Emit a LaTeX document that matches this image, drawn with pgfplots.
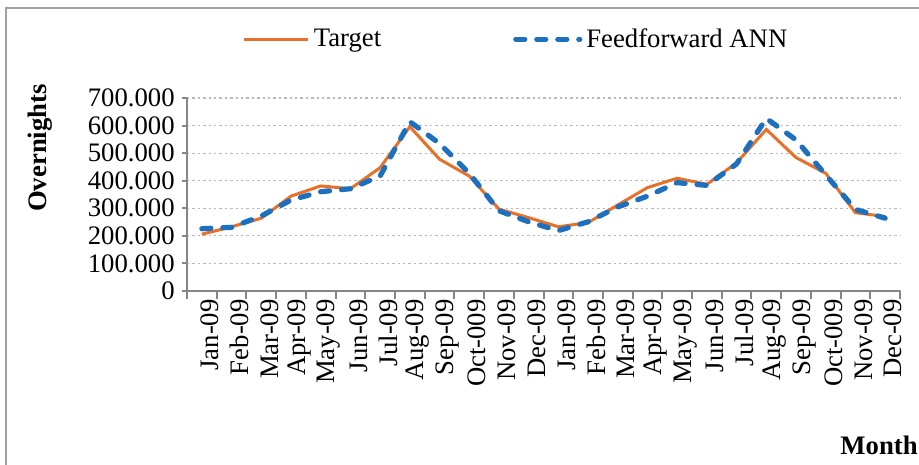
\documentclass[border=0pt]{standalone}
\usepackage{fontspec}
\setmainfont{Liberation Serif}
\usepackage{pgfplots}
\usepackage{pgfplotstable}
\pgfplotsset{compat=1.18}

\definecolor{tgt}{RGB}{232,112,40}
\definecolor{ann}{RGB}{28,112,190}
\definecolor{axgray}{RGB}{134,134,134}
\definecolor{gridgray}{RGB}{185,185,185}
\definecolor{framegray}{RGB}{160,160,160}

\newcommand{\cf}{\fontsize{13.4}{15}\selectfont}

% month index, target, feedforward ANN
\pgfplotstableread{
x  target  ann
0  206000  226000
1  233000  231000
2  264000  272000
3  344000  330000
4  381000  360000
5  371000  371000
6  447000  417000
7  596000  614000
8  478000  535000
9  417000  427000
10 297000  291000
11 266000  251000
12 233000  219000
13 248000  251000
14 312000  305000
15 375000  344000
16 409000  393000
17 387000  383000
18 465000  461000
19 586000  626000
20 484000  548000
21 427000  421000
22 284000  296000
23 270000  264000
}\overnights

\begin{document}
\begin{tikzpicture}
\useasboundingbox (0,0) rectangle (459.5bp,232.5bp);
\begin{scope}
\clip (0,0) rectangle (459.5bp,232.5bp);
\draw[framegray, line width=1bp] (3bp,228.5bp) rectangle (480bp,-20bp);
\end{scope}

\begin{axis}[
    at={(93.5bp,87bp)}, anchor=south west,
    scale only axis,
    width=356.5bp, height=96.5bp,
    xmin=-0.5, xmax=23.5,
    ymin=0, ymax=700000,
    axis lines*=left,
    axis line style={axgray, line width=1bp},
    tick align=outside,
    xtick={0,...,23},
    xticklabels={Jan-09,Feb-09,Mar-09,Apr-09,May-09,Jun-09,Jul-09,Aug-09,Sep-09,Oct-009,Nov-09,Dec-09,
                 Jan-09,Feb-09,Mar-09,Apr-09,May-09,Jun-09,Jul-09,Aug-09,Sep-09,Oct-009,Nov-09,Dec-09},
    minor xtick={-0.5,0.5,...,23.5},
    major x tick style={draw=none},
    minor x tick style={axgray, line width=1bp},
    minor tick length=4bp,
    major tick length=2.5bp,
    ytick={0,100000,...,700000},
    yticklabels={0,100.000,200.000,300.000,400.000,500.000,600.000,700.000},
    y tick style={axgray, line width=1bp},
    ymajorgrids,
    major grid style={gridgray, line width=0.6bp, dash pattern=on 1.2bp off 1.5bp},
    xticklabel style={font=\cf, rotate=90, anchor=east, yshift=-4bp, inner sep=1.5bp},
    yticklabel style={font=\cf, inner sep=2bp, xshift=-1.5bp},
    scaled y ticks=false,
    clip=false,
    legend columns=2,
    legend style={draw=none, fill=none, font=\cf, at={(0.463,1.305)}, anchor=center,
                  /tikz/every even column/.append style={column sep=64bp}},
    legend image code/.code={\draw[#1] (0bp,0bp) -- (32bp,0bp);},
]
\addplot[tgt, line width=1.5bp] table[x=x, y=target] {\overnights};
\addlegendentry{Target}
\addplot[ann, line width=2.6bp, line cap=round, dash pattern=on 4.5bp off 6bp] table[x=x, y=ann] {\overnights};
\addlegendentry{Feedforward ANN}
\end{axis}

\node[rotate=90, font=\cf\bfseries] at (20bp,158.5bp) {Overnights};
\node[anchor=east, font=\cf\bfseries, inner sep=0.5bp] at (459.5bp,10bp) {Month};
\end{tikzpicture}
\end{document}
